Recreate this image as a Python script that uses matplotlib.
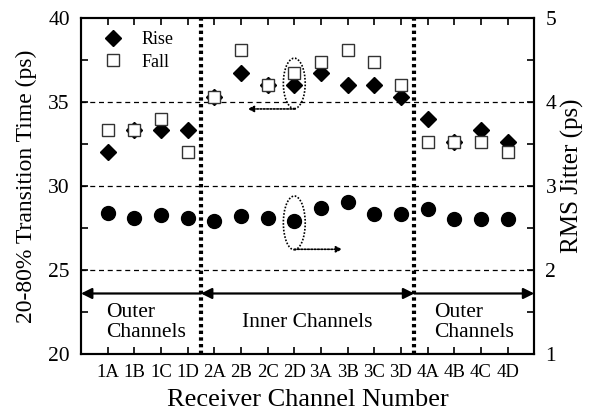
#!/usr/bin/env python3
# -*- coding: utf-8 -*-

import matplotlib as mpl
import matplotlib.pyplot as plt
from matplotlib.patches import Ellipse
from matplotlib.ticker import MultipleLocator

mpl.rcParams["font.family"] = ["Liberation Serif", "DejaVu Serif"]
mpl.rcParams["axes.linewidth"] = 1.5
mpl.rcParams["xtick.direction"] = "in"
mpl.rcParams["ytick.direction"] = "in"

CHANNELS = ["1A", "1B", "1C", "1D", "2A", "2B", "2C", "2D",
            "3A", "3B", "3C", "3D", "4A", "4B", "4C", "4D"]

RISE = [32.0, 33.3, 33.3, 33.3, 35.3, 36.7, 36.0, 36.0,
        36.7, 36.0, 36.0, 35.3, 34.0, 32.6, 33.3, 32.6]

FALL = [33.3, 33.3, 34.0, 32.0, 35.3, 38.1, 36.0, 36.7,
        37.4, 38.1, 37.4, 36.0, 32.6, 32.6, 32.6, 32.0]

JITTER = [2.68, 2.62, 2.65, 2.62, 2.58, 2.64, 2.62, 2.58,
          2.74, 2.81, 2.66, 2.66, 2.72, 2.61, 2.61, 2.61]

GROUP_BOUNDS = [4.5, 12.5]


def main():
    x = list(range(1, len(CHANNELS) + 1))

    fig = plt.figure(figsize=(5.91, 4.15), dpi=100)
    ax = fig.add_axes([0.137, 0.147, 0.767, 0.81])
    ax2 = ax.twinx()

    ax.plot(x, RISE, linestyle="none", marker="D", markersize=8.5,
            color="black", zorder=4, label="Rise")
    ax.plot(x, FALL, linestyle="none", marker="s", markersize=8.5,
            markerfacecolor="white", markeredgecolor="#333333",
            markeredgewidth=1.0, zorder=5, label="Fall")

    ax2.plot(x, JITTER, linestyle="none", marker="o", markersize=10,
             color="black", zorder=4)

    for yv in [25, 30, 35]:
        ax.axhline(yv, color="black", linestyle=(0, (4, 3)),
                   linewidth=0.9, zorder=1)

    for xb in GROUP_BOUNDS:
        ax.axvline(xb, color="black", linestyle=(0, (0.8, 0.8)),
                   linewidth=3, zorder=2)

    # group arrows
    y_arr = 23.6
    arr = dict(arrowstyle="-|>", color="black", lw=1.6,
               mutation_scale=16, shrinkA=0, shrinkB=0)
    ax.annotate("", xy=(0, y_arr), xytext=(4.5, y_arr), arrowprops=arr)
    ax.annotate("", xy=(17, y_arr), xytext=(12.5, y_arr), arrowprops=arr)
    ax.annotate("", xy=(12.5, y_arr), xytext=(4.5, y_arr),
                arrowprops=dict(arrowstyle="<|-|>", color="black", lw=1.6,
                                mutation_scale=16, shrinkA=0, shrinkB=0))

    ax.text(0.93, 21.0, "Outer\nChannels", fontsize=15.5, ha="left",
            va="baseline", linespacing=1.1)
    ax.text(13.25, 21.0, "Outer\nChannels", fontsize=15.5, ha="left",
            va="baseline", linespacing=1.1)
    ax.text(8.5, 21.6, "Inner Channels", fontsize=15.5, ha="center",
            va="baseline")

    # dotted ellipses with pointer arrows
    ax.add_patch(Ellipse((8, 36.1), 0.82, 3.0, fill=False,
                         linestyle=(0, (1, 1)), linewidth=1.2,
                         edgecolor="black", zorder=6))
    ax.annotate("", xy=(6.25, 34.58), xytext=(8.03, 34.58),
                arrowprops=dict(arrowstyle="-|>", color="black", lw=1.2,
                                linestyle=(0, (1, 1)),
                                mutation_scale=9, shrinkA=0, shrinkB=0))
    ax.add_patch(Ellipse((8, 27.8), 0.82, 3.2, fill=False,
                         linestyle=(0, (1, 1)), linewidth=1.2,
                         edgecolor="black", zorder=6))
    ax.annotate("", xy=(9.8, 26.23), xytext=(8.0, 26.23),
                arrowprops=dict(arrowstyle="-|>", color="black", lw=1.2,
                                linestyle=(0, (1, 1)),
                                mutation_scale=9, shrinkA=0, shrinkB=0))

    ax.set_xlim(0, 17)
    ax.set_ylim(20, 40)
    ax2.set_ylim(1, 5)

    ax.set_xticks(x)
    ax.set_xticklabels(CHANNELS)
    ax.yaxis.set_major_locator(MultipleLocator(5))
    ax.yaxis.set_minor_locator(MultipleLocator(2.5))
    ax2.yaxis.set_major_locator(MultipleLocator(1))
    ax2.yaxis.set_minor_locator(MultipleLocator(0.5))

    ax.tick_params(axis="x", which="both", top=True, labelsize=13.5,
                   length=5, width=1.2, pad=7)
    ax.tick_params(axis="y", which="both", right=False, labelsize=15.5,
                   length=5, width=1.2, pad=8)
    ax2.tick_params(axis="y", which="both", labelsize=15.5,
                    length=5, width=1.2, pad=8)

    ax.set_xlabel("Receiver Channel Number", fontsize=19, labelpad=6)
    ax.set_ylabel("20-80% Transition Time (ps)", fontsize=17, labelpad=8)
    ax2.set_ylabel("RMS Jitter (ps)", fontsize=18)
    ax2.yaxis.set_label_coords(1.058, 0.53)

    ax.legend(loc="upper left", bbox_to_anchor=(0.0, 1.0), frameon=False,
              fontsize=13, handletextpad=0.6, labelspacing=0.3,
              borderaxespad=0.35, numpoints=1)

    fig.savefig("out.png", dpi=100)
    plt.close(fig)


if __name__ == "__main__":
    main()
